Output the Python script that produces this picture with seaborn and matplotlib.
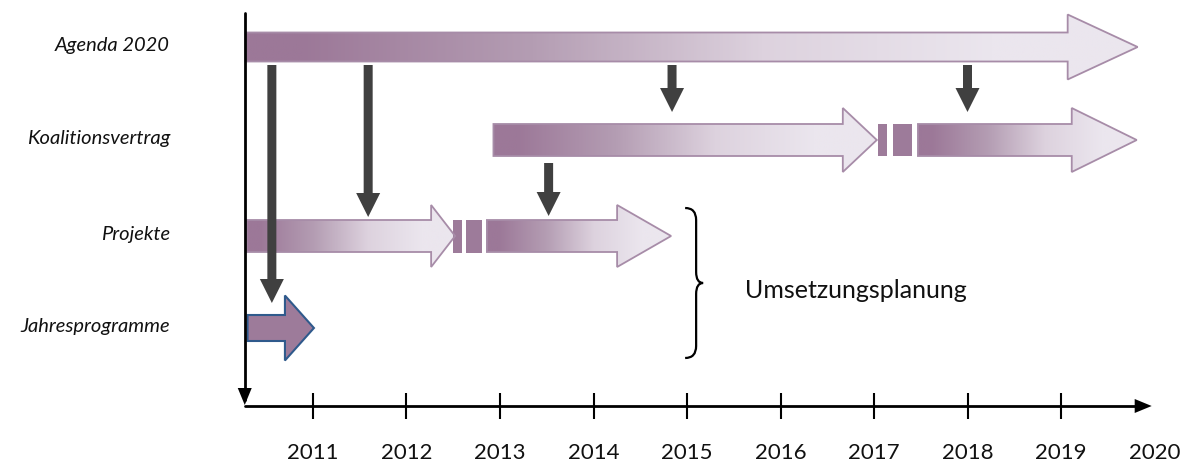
import numpy as np
import seaborn as sns
import matplotlib.pyplot as plt
from matplotlib.patches import Polygon, Rectangle, PathPatch
from matplotlib.path import Path
from matplotlib.colors import LinearSegmentedColormap

# Zeilen (Ebenen der Planung)
rows = ["Agenda 2020", "Koalitionsvertrag", "Projekte", "Jahresprogramme"]
row_y = [47, 140, 236, 328]

# Zeitspannen der Pfeile (Jahre)
agenda_spans = [(2010.28, 2019.82)]
koal_spans = [(2012.93, 2017.03), (2017.47, 2019.81)]
koal_breaks = [(2017.04, 2017.14), (2017.20, 2017.41)]
proj_spans = [(2010.29, 2012.52), (2012.86, 2014.83)]
proj_breaks = [(2012.50, 2012.59), (2012.64, 2012.81)]
jahr_spans = [(2010.30, 2011.01)]

# Ableitungspfeile: x-Position (Jahr), Start- und Endhoehe
cascade_x = [2010.56, 2011.59, 2013.52, 2014.84, 2018.0]
cascade_top = [65, 65, 163, 65, 65]
cascade_tip = [303, 217, 216, 112, 112]

years = list(range(2011, 2021))
axis_start, axis_end = 2010.27, 2019.97
brace_x = 2014.98
brace_label = "Umsetzungsplanung"

sns.set_theme(style="white")
plt.rcParams['font.family'] = ['Lato', 'DejaVu Sans']

PPY = 93.5  # Pixel pro Jahr
fig = plt.figure(figsize=(11.86, 4.65), dpi=100)
ax = fig.add_axes([0, 0, 1, 1])
xlim = (2011 - 313 / PPY, 2011 + (1186 - 313) / PPY)

cmap = LinearSegmentedColormap.from_list("lila", ["#9c7898", "#b49db3", "#ddd2de", "#ebe6ee"])
dark_purple = "#9d7b9a"
edge_purple = "#a78ca8"


def arrow_pts(x0, x1, yc, shaft, head, head_px):
    xs = x1 - head_px / PPY
    return [(x0, yc - shaft), (xs, yc - shaft), (xs, yc - head), (x1, yc),
            (xs, yc + head), (xs, yc + shaft), (x0, yc + shaft)]


def grad_arrow(x0, x1, yc, shaft, head, head_px):
    poly = Polygon(arrow_pts(x0, x1, yc, shaft, head, head_px), closed=True,
                   facecolor="none", edgecolor="none")
    ax.add_patch(poly)
    t = np.linspace(0, 1, 400)
    g = np.clip((t - 0.06) / 0.78, 0, 1)
    im = ax.imshow(g[None, :], cmap=cmap, vmin=0, vmax=1, aspect="auto",
                   extent=(x0, x1, yc + head, yc - head), zorder=2,
                   interpolation="bilinear")
    im.set_clip_path(poly)
    ax.add_patch(Polygon(arrow_pts(x0, x1, yc, shaft, head, head_px), closed=True,
                         facecolor="none", edgecolor=edge_purple, lw=1.3, zorder=3))


# Agenda 2020
for x0, x1 in agenda_spans:
    grad_arrow(x0, x1, row_y[0], 14.5, 32.5, 70)

# Koalitionsvertrag
for (x0, x1), hp in zip(koal_spans, [34, 65]):
    grad_arrow(x0, x1, row_y[1], 16, 32, hp)
for b0, b1 in koal_breaks:
    ax.add_patch(Rectangle((b0, row_y[1] - 16), b1 - b0, 32, facecolor=dark_purple,
                           edgecolor="none", zorder=2))

# Projekte
for (x0, x1), hp in zip(proj_spans, [24, 54]):
    grad_arrow(x0, x1, row_y[2], 16, 31, hp)
for b0, b1 in proj_breaks:
    ax.add_patch(Rectangle((b0, row_y[2] - 16), b1 - b0, 33, facecolor=dark_purple,
                           edgecolor="none", zorder=2))

# Jahresprogramme
for x0, x1 in jahr_spans:
    ax.add_patch(Polygon(arrow_pts(x0, x1, row_y[3], 13, 32.5, 29), closed=True,
                         facecolor=dark_purple, edgecolor="#2f5a8c", lw=1.5, zorder=3))

# Ableitungspfeile (dunkelgrau)
for x, y0, y1 in zip(cascade_x, cascade_top, cascade_tip):
    sw, hw, hl = 4.5 / PPY, 12 / PPY, 24
    pts = [(x - sw, y0), (x + sw, y0), (x + sw, y1 - hl), (x + hw, y1 - hl), (x, y1),
           (x - hw, y1 - hl), (x - sw, y1 - hl)]
    ax.add_patch(Polygon(pts, closed=True, facecolor="#404040", edgecolor="none", zorder=5))

# Zeitachse
ax.plot([axis_start, axis_start], [13, 400], color="black", lw=2, zorder=6)
ax.add_patch(Polygon([(axis_start - 7 / PPY, 388), (axis_start + 7 / PPY, 388), (axis_start, 405)],
                     closed=True, facecolor="black", edgecolor="none", zorder=6))
ax.plot([axis_start, axis_end - 15 / PPY], [406, 406], color="black", lw=2, zorder=6)
ax.add_patch(Polygon([(axis_end - 17 / PPY, 399), (axis_end - 17 / PPY, 413), (axis_end, 406)],
                     closed=True, facecolor="black", edgecolor="none", zorder=6))
ax.vlines(years[:-1], 393, 419, color="black", lw=1.5, zorder=6)
for yr in years:
    ax.text(yr, 453, str(yr), ha="center", va="center", fontsize=16, color="#111111")

# Zeilenbeschriftung
for name, y in zip(rows, row_y):
    ax.text(2011 + (170 - 313) / PPY, y - 2, name, ha="right", va="center",
            fontsize=14.5, style="italic", color="#111111")

# Geschweifte Klammer
bx = brace_x
u = 1 / PPY
verts = [(bx, 208), (bx + 11 * u, 208), (bx + 11 * u, 220), (bx + 11 * u, 232),
         (bx + 11 * u, 272), (bx + 11 * u, 283), (bx + 18 * u, 283),
         (bx + 11 * u, 283), (bx + 11 * u, 294),
         (bx + 11 * u, 346), (bx + 11 * u, 358), (bx, 358)]
codes = [Path.MOVETO, Path.CURVE3, Path.CURVE3, Path.LINETO,
         Path.LINETO, Path.CURVE3, Path.CURVE3,
         Path.CURVE3, Path.CURVE3,
         Path.LINETO, Path.CURVE3, Path.CURVE3]
ax.add_patch(PathPatch(Path(verts, codes), facecolor="none", edgecolor="black", lw=1.6, zorder=4))
ax.text(2011 + (745 - 313) / PPY, 290, brace_label, ha="left", va="center",
        fontsize=18, color="#111111")

ax.set_xlim(*xlim)
ax.set_ylim(465, 0)
ax.axis("off")
fig.savefig("out.png", dpi=100)
